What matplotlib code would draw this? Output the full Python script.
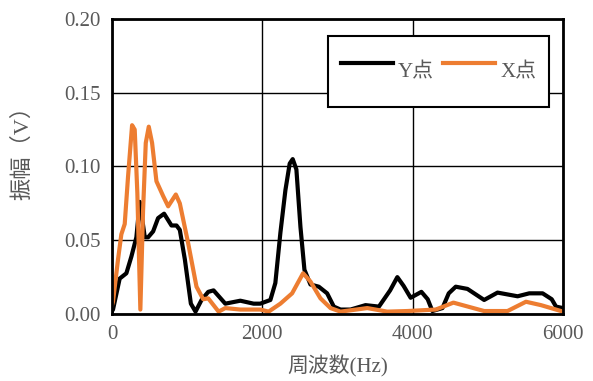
import matplotlib.pyplot as plt

# Excel-style spectrum chart
freq_y = [0, 13, 102, 191, 258, 324, 369, 436, 480, 547, 613, 693, 791, 858, 902,
          969, 1049, 1111, 1191, 1280, 1351, 1507, 1707, 1884, 1973, 2107, 2173,
          2240, 2307, 2364, 2404, 2453, 2507, 2560, 2640, 2751, 2862, 2951, 3040,
          3173, 3373, 3551, 3700, 3796, 3880, 3973, 4116, 4200, 4262, 4396, 4480,
          4573, 4729, 4951, 5129, 5396, 5551, 5729, 5850, 5907, 6000]
amp_y = [0.002, 0.003, 0.024, 0.0276, 0.039, 0.052, 0.076, 0.052, 0.052, 0.056,
         0.065, 0.068, 0.060, 0.060, 0.057, 0.037, 0.007, 0.0016, 0.0095, 0.015,
         0.016, 0.007, 0.009, 0.007, 0.007, 0.0095, 0.021, 0.055, 0.084, 0.102,
         0.105, 0.098, 0.059, 0.030, 0.020, 0.0185, 0.014, 0.005, 0.003, 0.003,
         0.006, 0.005, 0.016, 0.025, 0.019, 0.011, 0.015, 0.010, 0.002, 0.004,
         0.014, 0.0185, 0.017, 0.0095, 0.0145, 0.012, 0.014, 0.014, 0.010,
         0.005, 0.004]

freq_x = [0, 13, 80, 124, 169, 213, 267, 302, 337, 377, 413, 449, 489, 533, 591,
          680, 747, 849, 902, 1013, 1124, 1213, 1280, 1418, 1507, 1707, 1973,
          2084, 2240, 2396, 2542, 2640, 2773, 2907, 3040, 3396, 3662, 3929, 4307,
          4542, 4951, 5262, 5507, 5707, 6000]
amp_x = [0.006, 0.0083, 0.037, 0.054, 0.061, 0.093, 0.128, 0.125, 0.082, 0.003,
         0.070, 0.116, 0.127, 0.116, 0.090, 0.080, 0.073, 0.081, 0.075, 0.048,
         0.0185, 0.010, 0.0106, 0.0016, 0.004, 0.003, 0.003, 0.0016, 0.007, 0.014,
         0.0276, 0.022, 0.0106, 0.004, 0.0016, 0.004, 0.0016, 0.002, 0.003,
         0.0077, 0.002, 0.002, 0.0083, 0.006, 0.0016]

xticks = [0, 2000, 4000, 6000]
yticks = [0.00, 0.05, 0.10, 0.15, 0.20]

plt.rcParams['font.family'] = ['Liberation Serif', 'Noto Sans CJK JP']
gray = '#595959'

fig = plt.figure(figsize=(5.93, 3.81), dpi=100)
ax = fig.add_axes([0.1889, 0.1759, 0.7605, 0.7742])

ax.plot(freq_y, amp_y, color='black', lw=3, label='Y点', solid_joinstyle='round')
ax.plot(freq_x, amp_x, color='#ED7D31', lw=3, label='X点', solid_joinstyle='round')

ax.set_xlim(0, 6000)
ax.set_ylim(0, 0.2)
ax.set_xticks(xticks)
ax.set_yticks(yticks)
ax.set_yticklabels(['%.2f' % v for v in yticks])
ax.grid(True, color='black', lw=1)
ax.set_axisbelow(True)
ax.tick_params(length=0, labelsize=15, labelcolor=gray, pad=8)
for s in ax.spines.values():
    s.set_linewidth(2)
    s.set_color('black')

ax.set_xlabel('周波数(Hz)', fontsize=15, color=gray, labelpad=8)
ax.set_ylabel('振幅（V）', fontsize=16, color=gray)
ax.yaxis.set_label_coords(-0.175, 0.566)

leg = ax.legend(loc='upper left', bbox_to_anchor=(0.479, 0.942), borderaxespad=0,
                ncol=2, fontsize=15, frameon=True, fancybox=False,
                handlelength=2.5, handletextpad=0.25, columnspacing=0.45,
                borderpad=0.6, handleheight=3.0)
leg.get_frame().set_edgecolor('black')
leg.get_frame().set_linewidth(1.5)
leg.get_frame().set_alpha(1)
for t in leg.get_texts():
    t.set_color(gray)

fig.savefig('out.png', dpi=100)
